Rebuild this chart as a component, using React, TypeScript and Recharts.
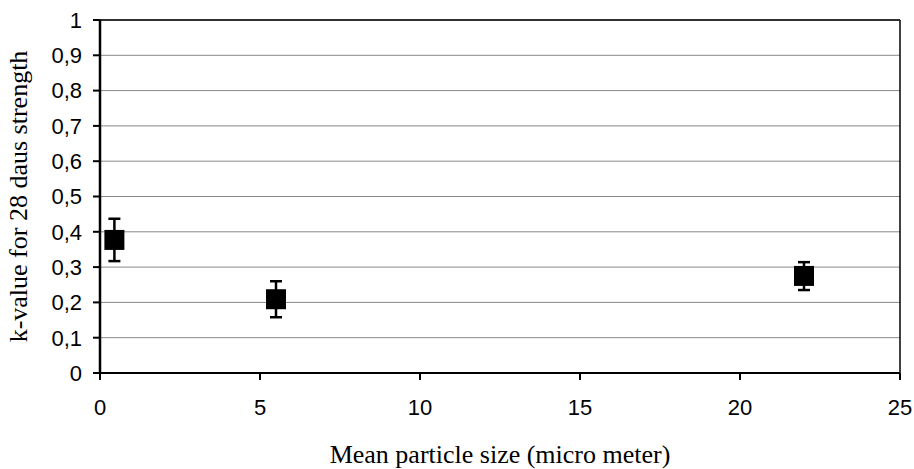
import React from 'react';
import {
  ScatterChart,
  Scatter,
  XAxis,
  YAxis,
  CartesianGrid,
  ErrorBar,
  ReferenceLine,
} from 'recharts';

const particleSize = [0.45, 5.5, 22];
const kValue = [0.377, 0.209, 0.275];
const kLow = [0.317, 0.158, 0.235];
const kHigh = [0.437, 0.26, 0.314];

const xTicks = [0, 5, 10, 15, 20, 25];
const yTicks = [0, 0.1, 0.2, 0.3, 0.4, 0.5, 0.6, 0.7, 0.8, 0.9, 1];

const data = particleSize.map((x, i) => ({
  x,
  y: kValue[i],
  err: [kValue[i] - kLow[i], kHigh[i] - kValue[i]],
}));

const tickFont = { fontFamily: 'Liberation Sans, Arial, sans-serif', fontSize: 22, fill: '#000' };
const titleFont = 'Liberation Serif, Times New Roman, serif';

const formatY = (v: number) => (v === 0 || v === 1 ? String(v) : v.toFixed(1).replace('.', ','));

const SquareMarker = (props: any) => {
  const { cx, cy } = props;
  if (cx == null || cy == null) return null;
  return <rect x={cx - 10} y={cy - 10} width={20} height={20} fill="#000" />;
};

const App: React.FC = () => {
  return (
    <div style={{ position: 'absolute', left: 0, top: 0, width: 914, height: 469, background: '#fff' }}>
      <ScatterChart width={914} height={469} margin={{ top: 20, right: 14, bottom: 0, left: 0 }}>
        <CartesianGrid horizontal vertical={false} stroke="#888" strokeWidth={1} />
        <XAxis
          type="number"
          dataKey="x"
          domain={[0, 25]}
          ticks={xTicks}
          allowDataOverflow
          height={96}
          tick={tickFont}
          tickSize={7}
          tickMargin={19}
          axisLine={{ stroke: '#000', strokeWidth: 2 }}
          tickLine={{ stroke: '#000', strokeWidth: 2 }}
          label={({ viewBox }: any) => (
            <text
              x={viewBox.x + viewBox.width / 2}
              y={viewBox.y + 90}
              textAnchor="middle"
              fontFamily={titleFont}
              fontSize={26}
              fill="#000"
            >
              Mean particle size (micro meter)
            </text>
          )}
        />
        <YAxis
          type="number"
          dataKey="y"
          domain={[0, 1]}
          ticks={yTicks}
          allowDataOverflow
          width={100}
          tick={tickFont}
          tickFormatter={formatY}
          tickSize={7}
          tickMargin={11}
          axisLine={{ stroke: '#000', strokeWidth: 2.5 }}
          tickLine={{ stroke: '#000', strokeWidth: 2 }}
          label={({ viewBox }: any) => {
            const cx = viewBox.x + 21;
            const cy = viewBox.y + viewBox.height / 2;
            return (
              <text
                x={cx}
                y={cy}
                transform={`rotate(-90 ${cx} ${cy})`}
                textAnchor="middle"
                dominantBaseline="middle"
                fontFamily={titleFont}
                fontSize={26}
                fill="#000"
              >
                k-value for 28 daus strength
              </text>
            );
          }}
        />
        <ReferenceLine y={1} stroke="#000" strokeWidth={1.5} />
        <ReferenceLine x={25} stroke="#000" strokeWidth={1.5} />
        <Scatter data={data} shape={<SquareMarker />} isAnimationActive={false}>
          <ErrorBar dataKey="err" direction="y" width={6} stroke="#000" strokeWidth={2.5} isAnimationActive={false} />
        </Scatter>
      </ScatterChart>
    </div>
  );
};

export default App;
